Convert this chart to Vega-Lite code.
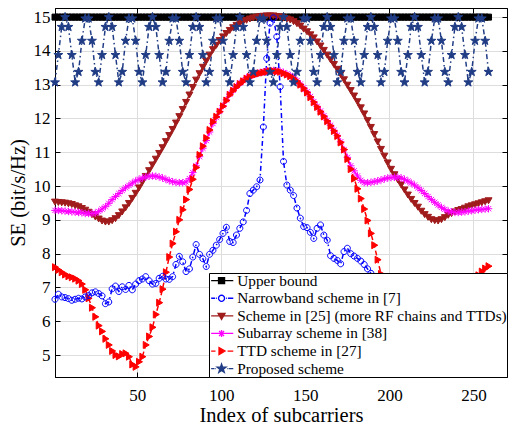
{
"$schema": "https://vega.github.io/schema/vega-lite/v6.json",
"width": 452, "height": 369,
"autosize": {"type": "none"},
"padding": {"left": 55, "top": 8, "right": 4, "bottom": 48},
"background": "white",
"config": {
 "font": "Liberation Serif",
 "view": {"stroke": "black", "strokeWidth": 1},
 "axis": {"labelFont": "Liberation Serif", "labelFontSize": 17, "labelColor": "black", "titleFont": "Liberation Serif", "titleFontSize": 20.5, "titleFontWeight": "normal", "titleColor": "black", "domainColor": "black", "domainWidth": 1, "tickColor": "black", "tickWidth": 1, "tickSize": -5, "gridColor": "#dddddd", "gridWidth": 1}
},
"data": {"values": [
{"s":"UB","x":1,"y":15},{"s":"UB","x":3,"y":15},{"s":"UB","x":5,"y":15},{"s":"UB","x":7,"y":15},{"s":"UB","x":9,"y":15},{"s":"UB","x":11,"y":15},{"s":"UB","x":13,"y":15},{"s":"UB","x":15,"y":15},{"s":"UB","x":17,"y":15},{"s":"UB","x":19,"y":15},{"s":"UB","x":21,"y":15},{"s":"UB","x":23,"y":15},{"s":"UB","x":25,"y":15},{"s":"UB","x":27,"y":15},{"s":"UB","x":29,"y":15},{"s":"UB","x":31,"y":15},{"s":"UB","x":33,"y":15},{"s":"UB","x":35,"y":15},{"s":"UB","x":37,"y":15},{"s":"UB","x":39,"y":15},{"s":"UB","x":41,"y":15},{"s":"UB","x":43,"y":15},{"s":"UB","x":45,"y":15},{"s":"UB","x":47,"y":15},{"s":"UB","x":49,"y":15},{"s":"UB","x":51,"y":15},{"s":"UB","x":53,"y":15},{"s":"UB","x":55,"y":15},{"s":"UB","x":57,"y":15},{"s":"UB","x":59,"y":15},{"s":"UB","x":61,"y":15},{"s":"UB","x":63,"y":15},{"s":"UB","x":65,"y":15},{"s":"UB","x":67,"y":15},{"s":"UB","x":69,"y":15},{"s":"UB","x":71,"y":15},{"s":"UB","x":73,"y":15},{"s":"UB","x":75,"y":15},{"s":"UB","x":77,"y":15},{"s":"UB","x":79,"y":15},{"s":"UB","x":81,"y":15},{"s":"UB","x":83,"y":15},{"s":"UB","x":85,"y":15},{"s":"UB","x":87,"y":15},{"s":"UB","x":89,"y":15},{"s":"UB","x":91,"y":15},{"s":"UB","x":93,"y":15},{"s":"UB","x":95,"y":15},{"s":"UB","x":97,"y":15},{"s":"UB","x":99,"y":15},{"s":"UB","x":101,"y":15},{"s":"UB","x":103,"y":15},{"s":"UB","x":105,"y":15},{"s":"UB","x":107,"y":15},{"s":"UB","x":109,"y":15},{"s":"UB","x":111,"y":15},{"s":"UB","x":113,"y":15},{"s":"UB","x":115,"y":15},{"s":"UB","x":117,"y":15},{"s":"UB","x":119,"y":15},{"s":"UB","x":121,"y":15},{"s":"UB","x":123,"y":15},{"s":"UB","x":125,"y":15},{"s":"UB","x":127,"y":15},{"s":"UB","x":129,"y":15},{"s":"UB","x":131,"y":15},{"s":"UB","x":133,"y":15},{"s":"UB","x":135,"y":15},{"s":"UB","x":137,"y":15},{"s":"UB","x":139,"y":15},{"s":"UB","x":141,"y":15},{"s":"UB","x":143,"y":15},{"s":"UB","x":145,"y":15},{"s":"UB","x":147,"y":15},{"s":"UB","x":149,"y":15},{"s":"UB","x":151,"y":15},{"s":"UB","x":153,"y":15},{"s":"UB","x":155,"y":15},{"s":"UB","x":157,"y":15},{"s":"UB","x":159,"y":15},{"s":"UB","x":161,"y":15},{"s":"UB","x":163,"y":15},{"s":"UB","x":165,"y":15},{"s":"UB","x":167,"y":15},{"s":"UB","x":169,"y":15},{"s":"UB","x":171,"y":15},{"s":"UB","x":173,"y":15},{"s":"UB","x":175,"y":15},{"s":"UB","x":177,"y":15},{"s":"UB","x":179,"y":15},{"s":"UB","x":181,"y":15},{"s":"UB","x":183,"y":15},{"s":"UB","x":185,"y":15},{"s":"UB","x":187,"y":15},{"s":"UB","x":189,"y":15},{"s":"UB","x":191,"y":15},{"s":"UB","x":193,"y":15},{"s":"UB","x":195,"y":15},{"s":"UB","x":197,"y":15},{"s":"UB","x":199,"y":15},{"s":"UB","x":201,"y":15},{"s":"UB","x":203,"y":15},{"s":"UB","x":205,"y":15},{"s":"UB","x":207,"y":15},{"s":"UB","x":209,"y":15},{"s":"UB","x":211,"y":15},{"s":"UB","x":213,"y":15},{"s":"UB","x":215,"y":15},{"s":"UB","x":217,"y":15},{"s":"UB","x":219,"y":15},{"s":"UB","x":221,"y":15},{"s":"UB","x":223,"y":15},{"s":"UB","x":225,"y":15},{"s":"UB","x":227,"y":15},{"s":"UB","x":229,"y":15},{"s":"UB","x":231,"y":15},{"s":"UB","x":233,"y":15},{"s":"UB","x":235,"y":15},{"s":"UB","x":237,"y":15},{"s":"UB","x":239,"y":15},{"s":"UB","x":241,"y":15},{"s":"UB","x":243,"y":15},{"s":"UB","x":245,"y":15},{"s":"UB","x":247,"y":15},{"s":"UB","x":249,"y":15},{"s":"UB","x":251,"y":15},{"s":"UB","x":253,"y":15},{"s":"UB","x":255,"y":15},{"s":"UB","x":257,"y":15},{"s":"UB","x":259,"y":15},
{"s":"S25","x":1,"y":9.54},{"s":"S25","x":3,"y":9.53},{"s":"S25","x":5,"y":9.52},{"s":"S25","x":7,"y":9.51},{"s":"S25","x":9,"y":9.49},{"s":"S25","x":11,"y":9.47},{"s":"S25","x":13,"y":9.43},{"s":"S25","x":15,"y":9.40},{"s":"S25","x":17,"y":9.35},{"s":"S25","x":19,"y":9.30},{"s":"S25","x":21,"y":9.24},{"s":"S25","x":23,"y":9.17},{"s":"S25","x":25,"y":9.10},{"s":"S25","x":27,"y":9.04},{"s":"S25","x":29,"y":8.98},{"s":"S25","x":31,"y":8.95},{"s":"S25","x":33,"y":8.95},{"s":"S25","x":35,"y":8.99},{"s":"S25","x":37,"y":9.05},{"s":"S25","x":39,"y":9.14},{"s":"S25","x":41,"y":9.25},{"s":"S25","x":43,"y":9.37},{"s":"S25","x":45,"y":9.50},{"s":"S25","x":47,"y":9.65},{"s":"S25","x":49,"y":9.80},{"s":"S25","x":51,"y":9.96},{"s":"S25","x":53,"y":10.13},{"s":"S25","x":55,"y":10.30},{"s":"S25","x":57,"y":10.47},{"s":"S25","x":59,"y":10.64},{"s":"S25","x":61,"y":10.81},{"s":"S25","x":63,"y":10.98},{"s":"S25","x":65,"y":11.15},{"s":"S25","x":67,"y":11.33},{"s":"S25","x":69,"y":11.51},{"s":"S25","x":71,"y":11.69},{"s":"S25","x":73,"y":11.88},{"s":"S25","x":75,"y":12.07},{"s":"S25","x":77,"y":12.28},{"s":"S25","x":79,"y":12.49},{"s":"S25","x":81,"y":12.71},{"s":"S25","x":83,"y":12.93},{"s":"S25","x":85,"y":13.15},{"s":"S25","x":87,"y":13.34},{"s":"S25","x":89,"y":13.53},{"s":"S25","x":91,"y":13.71},{"s":"S25","x":93,"y":13.89},{"s":"S25","x":95,"y":14.05},{"s":"S25","x":97,"y":14.18},{"s":"S25","x":99,"y":14.32},{"s":"S25","x":101,"y":14.43},{"s":"S25","x":103,"y":14.53},{"s":"S25","x":105,"y":14.62},{"s":"S25","x":107,"y":14.70},{"s":"S25","x":109,"y":14.77},{"s":"S25","x":111,"y":14.83},{"s":"S25","x":113,"y":14.88},{"s":"S25","x":115,"y":14.92},{"s":"S25","x":117,"y":14.96},{"s":"S25","x":119,"y":14.99},{"s":"S25","x":121,"y":15.01},{"s":"S25","x":123,"y":15.03},{"s":"S25","x":125,"y":15.04},{"s":"S25","x":127,"y":15.05},{"s":"S25","x":129,"y":15.05},{"s":"S25","x":131,"y":15.05},{"s":"S25","x":133,"y":15.03},{"s":"S25","x":135,"y":15.02},{"s":"S25","x":137,"y":14.99},{"s":"S25","x":139,"y":14.96},{"s":"S25","x":141,"y":14.93},{"s":"S25","x":143,"y":14.88},{"s":"S25","x":145,"y":14.82},{"s":"S25","x":147,"y":14.75},{"s":"S25","x":149,"y":14.66},{"s":"S25","x":151,"y":14.58},{"s":"S25","x":153,"y":14.49},{"s":"S25","x":155,"y":14.40},{"s":"S25","x":157,"y":14.28},{"s":"S25","x":159,"y":14.16},{"s":"S25","x":161,"y":14.03},{"s":"S25","x":163,"y":13.89},{"s":"S25","x":165,"y":13.75},{"s":"S25","x":167,"y":13.61},{"s":"S25","x":169,"y":13.47},{"s":"S25","x":171,"y":13.32},{"s":"S25","x":173,"y":13.16},{"s":"S25","x":175,"y":13.00},{"s":"S25","x":177,"y":12.84},{"s":"S25","x":179,"y":12.68},{"s":"S25","x":181,"y":12.51},{"s":"S25","x":183,"y":12.33},{"s":"S25","x":185,"y":12.15},{"s":"S25","x":187,"y":11.95},{"s":"S25","x":189,"y":11.75},{"s":"S25","x":191,"y":11.54},{"s":"S25","x":193,"y":11.32},{"s":"S25","x":195,"y":11.10},{"s":"S25","x":197,"y":10.90},{"s":"S25","x":199,"y":10.70},{"s":"S25","x":201,"y":10.51},{"s":"S25","x":203,"y":10.35},{"s":"S25","x":205,"y":10.20},{"s":"S25","x":207,"y":10.05},{"s":"S25","x":209,"y":9.90},{"s":"S25","x":211,"y":9.75},{"s":"S25","x":213,"y":9.62},{"s":"S25","x":215,"y":9.50},{"s":"S25","x":217,"y":9.39},{"s":"S25","x":219,"y":9.27},{"s":"S25","x":221,"y":9.17},{"s":"S25","x":223,"y":9.09},{"s":"S25","x":225,"y":9.02},{"s":"S25","x":227,"y":8.99},{"s":"S25","x":229,"y":8.98},{"s":"S25","x":231,"y":9.02},{"s":"S25","x":233,"y":9.08},{"s":"S25","x":235,"y":9.15},{"s":"S25","x":237,"y":9.20},{"s":"S25","x":239,"y":9.25},{"s":"S25","x":241,"y":9.29},{"s":"S25","x":243,"y":9.32},{"s":"S25","x":245,"y":9.36},{"s":"S25","x":247,"y":9.40},{"s":"S25","x":249,"y":9.43},{"s":"S25","x":251,"y":9.46},{"s":"S25","x":253,"y":9.49},{"s":"S25","x":255,"y":9.52},{"s":"S25","x":257,"y":9.55},{"s":"S25","x":259,"y":9.58},
{"s":"SA","x":1,"y":9.28},{"s":"SA","x":3,"y":9.28},{"s":"SA","x":5,"y":9.27},{"s":"SA","x":7,"y":9.26},{"s":"SA","x":9,"y":9.25},{"s":"SA","x":11,"y":9.24},{"s":"SA","x":13,"y":9.23},{"s":"SA","x":15,"y":9.22},{"s":"SA","x":17,"y":9.21},{"s":"SA","x":19,"y":9.19},{"s":"SA","x":21,"y":9.19},{"s":"SA","x":23,"y":9.19},{"s":"SA","x":25,"y":9.20},{"s":"SA","x":27,"y":9.25},{"s":"SA","x":29,"y":9.32},{"s":"SA","x":31,"y":9.39},{"s":"SA","x":33,"y":9.49},{"s":"SA","x":35,"y":9.60},{"s":"SA","x":37,"y":9.69},{"s":"SA","x":39,"y":9.78},{"s":"SA","x":41,"y":9.87},{"s":"SA","x":43,"y":9.95},{"s":"SA","x":45,"y":10.02},{"s":"SA","x":47,"y":10.09},{"s":"SA","x":49,"y":10.15},{"s":"SA","x":51,"y":10.20},{"s":"SA","x":53,"y":10.24},{"s":"SA","x":55,"y":10.27},{"s":"SA","x":57,"y":10.29},{"s":"SA","x":59,"y":10.30},{"s":"SA","x":61,"y":10.29},{"s":"SA","x":63,"y":10.27},{"s":"SA","x":65,"y":10.24},{"s":"SA","x":67,"y":10.20},{"s":"SA","x":69,"y":10.16},{"s":"SA","x":71,"y":10.13},{"s":"SA","x":73,"y":10.11},{"s":"SA","x":75,"y":10.10},{"s":"SA","x":77,"y":10.10},{"s":"SA","x":79,"y":10.12},{"s":"SA","x":81,"y":10.22},{"s":"SA","x":83,"y":10.40},{"s":"SA","x":85,"y":10.60},{"s":"SA","x":87,"y":10.87},{"s":"SA","x":89,"y":11.12},{"s":"SA","x":91,"y":11.35},{"s":"SA","x":93,"y":11.60},{"s":"SA","x":95,"y":11.85},{"s":"SA","x":97,"y":12.03},{"s":"SA","x":99,"y":12.21},{"s":"SA","x":101,"y":12.38},{"s":"SA","x":103,"y":12.55},{"s":"SA","x":105,"y":12.72},{"s":"SA","x":107,"y":12.84},{"s":"SA","x":109,"y":12.95},{"s":"SA","x":111,"y":13.04},{"s":"SA","x":113,"y":13.12},{"s":"SA","x":115,"y":13.20},{"s":"SA","x":117,"y":13.25},{"s":"SA","x":119,"y":13.30},{"s":"SA","x":121,"y":13.33},{"s":"SA","x":123,"y":13.36},{"s":"SA","x":125,"y":13.38},{"s":"SA","x":127,"y":13.40},{"s":"SA","x":129,"y":13.42},{"s":"SA","x":131,"y":13.42},{"s":"SA","x":133,"y":13.41},{"s":"SA","x":135,"y":13.40},{"s":"SA","x":137,"y":13.36},{"s":"SA","x":139,"y":13.32},{"s":"SA","x":141,"y":13.27},{"s":"SA","x":143,"y":13.20},{"s":"SA","x":145,"y":13.12},{"s":"SA","x":147,"y":13.02},{"s":"SA","x":149,"y":12.91},{"s":"SA","x":151,"y":12.79},{"s":"SA","x":153,"y":12.65},{"s":"SA","x":155,"y":12.50},{"s":"SA","x":157,"y":12.36},{"s":"SA","x":159,"y":12.22},{"s":"SA","x":161,"y":12.08},{"s":"SA","x":163,"y":11.94},{"s":"SA","x":165,"y":11.80},{"s":"SA","x":167,"y":11.65},{"s":"SA","x":169,"y":11.50},{"s":"SA","x":171,"y":11.31},{"s":"SA","x":173,"y":11.08},{"s":"SA","x":175,"y":10.85},{"s":"SA","x":177,"y":10.60},{"s":"SA","x":179,"y":10.45},{"s":"SA","x":181,"y":10.30},{"s":"SA","x":183,"y":10.17},{"s":"SA","x":185,"y":10.10},{"s":"SA","x":187,"y":10.10},{"s":"SA","x":189,"y":10.11},{"s":"SA","x":191,"y":10.13},{"s":"SA","x":193,"y":10.15},{"s":"SA","x":195,"y":10.18},{"s":"SA","x":197,"y":10.21},{"s":"SA","x":199,"y":10.24},{"s":"SA","x":201,"y":10.25},{"s":"SA","x":203,"y":10.26},{"s":"SA","x":205,"y":10.26},{"s":"SA","x":207,"y":10.24},{"s":"SA","x":209,"y":10.20},{"s":"SA","x":211,"y":10.15},{"s":"SA","x":213,"y":10.09},{"s":"SA","x":215,"y":10.03},{"s":"SA","x":217,"y":9.95},{"s":"SA","x":219,"y":9.87},{"s":"SA","x":221,"y":9.78},{"s":"SA","x":223,"y":9.69},{"s":"SA","x":225,"y":9.60},{"s":"SA","x":227,"y":9.52},{"s":"SA","x":229,"y":9.44},{"s":"SA","x":231,"y":9.37},{"s":"SA","x":233,"y":9.31},{"s":"SA","x":235,"y":9.26},{"s":"SA","x":237,"y":9.24},{"s":"SA","x":239,"y":9.22},{"s":"SA","x":241,"y":9.22},{"s":"SA","x":243,"y":9.23},{"s":"SA","x":245,"y":9.24},{"s":"SA","x":247,"y":9.26},{"s":"SA","x":249,"y":9.27},{"s":"SA","x":251,"y":9.29},{"s":"SA","x":253,"y":9.30},{"s":"SA","x":255,"y":9.31},{"s":"SA","x":257,"y":9.32},{"s":"SA","x":259,"y":9.33},
{"s":"TTD","x":1,"y":7.60},{"s":"TTD","x":3,"y":7.52},{"s":"TTD","x":5,"y":7.45},{"s":"TTD","x":7,"y":7.38},{"s":"TTD","x":9,"y":7.33},{"s":"TTD","x":11,"y":7.30},{"s":"TTD","x":13,"y":7.26},{"s":"TTD","x":15,"y":7.20},{"s":"TTD","x":17,"y":7.10},{"s":"TTD","x":19,"y":6.93},{"s":"TTD","x":21,"y":6.68},{"s":"TTD","x":23,"y":6.40},{"s":"TTD","x":25,"y":6.13},{"s":"TTD","x":27,"y":5.87},{"s":"TTD","x":29,"y":5.70},{"s":"TTD","x":31,"y":5.48},{"s":"TTD","x":33,"y":5.30},{"s":"TTD","x":35,"y":5.12},{"s":"TTD","x":37,"y":5.00},{"s":"TTD","x":39,"y":4.96},{"s":"TTD","x":41,"y":5.03},{"s":"TTD","x":43,"y":5.05},{"s":"TTD","x":45,"y":4.95},{"s":"TTD","x":47,"y":4.72},{"s":"TTD","x":49,"y":4.65},{"s":"TTD","x":51,"y":4.80},{"s":"TTD","x":53,"y":4.95},{"s":"TTD","x":55,"y":5.30},{"s":"TTD","x":57,"y":5.55},{"s":"TTD","x":59,"y":5.82},{"s":"TTD","x":61,"y":6.20},{"s":"TTD","x":63,"y":6.55},{"s":"TTD","x":65,"y":6.95},{"s":"TTD","x":67,"y":7.45},{"s":"TTD","x":69,"y":7.90},{"s":"TTD","x":71,"y":8.30},{"s":"TTD","x":73,"y":8.65},{"s":"TTD","x":75,"y":9.00},{"s":"TTD","x":77,"y":9.30},{"s":"TTD","x":79,"y":9.60},{"s":"TTD","x":81,"y":9.90},{"s":"TTD","x":83,"y":10.20},{"s":"TTD","x":85,"y":10.55},{"s":"TTD","x":87,"y":10.92},{"s":"TTD","x":89,"y":11.18},{"s":"TTD","x":91,"y":11.42},{"s":"TTD","x":93,"y":11.66},{"s":"TTD","x":95,"y":11.90},{"s":"TTD","x":97,"y":12.05},{"s":"TTD","x":99,"y":12.20},{"s":"TTD","x":101,"y":12.36},{"s":"TTD","x":103,"y":12.53},{"s":"TTD","x":105,"y":12.70},{"s":"TTD","x":107,"y":12.82},{"s":"TTD","x":109,"y":12.93},{"s":"TTD","x":111,"y":13.02},{"s":"TTD","x":113,"y":13.10},{"s":"TTD","x":115,"y":13.18},{"s":"TTD","x":117,"y":13.23},{"s":"TTD","x":119,"y":13.28},{"s":"TTD","x":121,"y":13.31},{"s":"TTD","x":123,"y":13.34},{"s":"TTD","x":125,"y":13.36},{"s":"TTD","x":127,"y":13.38},{"s":"TTD","x":129,"y":13.40},{"s":"TTD","x":131,"y":13.40},{"s":"TTD","x":133,"y":13.39},{"s":"TTD","x":135,"y":13.38},{"s":"TTD","x":137,"y":13.34},{"s":"TTD","x":139,"y":13.30},{"s":"TTD","x":141,"y":13.25},{"s":"TTD","x":143,"y":13.18},{"s":"TTD","x":145,"y":13.10},{"s":"TTD","x":147,"y":13.00},{"s":"TTD","x":149,"y":12.89},{"s":"TTD","x":151,"y":12.77},{"s":"TTD","x":153,"y":12.63},{"s":"TTD","x":155,"y":12.48},{"s":"TTD","x":157,"y":12.34},{"s":"TTD","x":159,"y":12.20},{"s":"TTD","x":161,"y":12.06},{"s":"TTD","x":163,"y":11.92},{"s":"TTD","x":165,"y":11.78},{"s":"TTD","x":167,"y":11.63},{"s":"TTD","x":169,"y":11.48},{"s":"TTD","x":171,"y":11.29},{"s":"TTD","x":173,"y":11.08},{"s":"TTD","x":175,"y":10.80},{"s":"TTD","x":177,"y":10.50},{"s":"TTD","x":179,"y":10.22},{"s":"TTD","x":181,"y":9.92},{"s":"TTD","x":183,"y":9.63},{"s":"TTD","x":185,"y":9.32},{"s":"TTD","x":187,"y":8.98},{"s":"TTD","x":189,"y":8.60},{"s":"TTD","x":191,"y":8.25},{"s":"TTD","x":193,"y":7.82},{"s":"TTD","x":195,"y":7.40},{"s":"TTD","x":197,"y":7.00},{"s":"TTD","x":199,"y":6.62},{"s":"TTD","x":201,"y":6.25},{"s":"TTD","x":203,"y":5.92},{"s":"TTD","x":205,"y":5.62},{"s":"TTD","x":207,"y":5.35},{"s":"TTD","x":209,"y":5.00},{"s":"TTD","x":211,"y":4.82},{"s":"TTD","x":213,"y":4.67},{"s":"TTD","x":215,"y":4.78},{"s":"TTD","x":217,"y":4.97},{"s":"TTD","x":219,"y":5.04},{"s":"TTD","x":221,"y":5.02},{"s":"TTD","x":223,"y":4.97},{"s":"TTD","x":225,"y":5.05},{"s":"TTD","x":227,"y":5.20},{"s":"TTD","x":229,"y":5.35},{"s":"TTD","x":231,"y":5.52},{"s":"TTD","x":233,"y":5.74},{"s":"TTD","x":235,"y":5.95},{"s":"TTD","x":237,"y":6.20},{"s":"TTD","x":239,"y":6.48},{"s":"TTD","x":241,"y":6.75},{"s":"TTD","x":243,"y":6.98},{"s":"TTD","x":245,"y":7.13},{"s":"TTD","x":247,"y":7.22},{"s":"TTD","x":249,"y":7.27},{"s":"TTD","x":251,"y":7.31},{"s":"TTD","x":253,"y":7.36},{"s":"TTD","x":255,"y":7.47},{"s":"TTD","x":257,"y":7.56},{"s":"TTD","x":259,"y":7.63},
{"s":"NB","x":1,"y":6.65},{"s":"NB","x":3,"y":6.80},{"s":"NB","x":5,"y":6.72},{"s":"NB","x":7,"y":6.70},{"s":"NB","x":9,"y":6.67},{"s":"NB","x":11,"y":6.62},{"s":"NB","x":13,"y":6.65},{"s":"NB","x":15,"y":6.68},{"s":"NB","x":17,"y":6.66},{"s":"NB","x":19,"y":6.72},{"s":"NB","x":21,"y":6.76},{"s":"NB","x":23,"y":6.84},{"s":"NB","x":25,"y":6.87},{"s":"NB","x":27,"y":6.82},{"s":"NB","x":29,"y":6.75},{"s":"NB","x":31,"y":6.52},{"s":"NB","x":33,"y":6.57},{"s":"NB","x":35,"y":6.96},{"s":"NB","x":37,"y":7.04},{"s":"NB","x":39,"y":6.88},{"s":"NB","x":41,"y":7.02},{"s":"NB","x":43,"y":6.94},{"s":"NB","x":45,"y":7.06},{"s":"NB","x":47,"y":6.93},{"s":"NB","x":49,"y":7.10},{"s":"NB","x":51,"y":7.20},{"s":"NB","x":53,"y":7.25},{"s":"NB","x":55,"y":7.32},{"s":"NB","x":57,"y":7.20},{"s":"NB","x":59,"y":7.10},{"s":"NB","x":61,"y":7.12},{"s":"NB","x":63,"y":7.27},{"s":"NB","x":65,"y":7.33},{"s":"NB","x":67,"y":7.25},{"s":"NB","x":69,"y":7.24},{"s":"NB","x":71,"y":7.32},{"s":"NB","x":73,"y":7.68},{"s":"NB","x":75,"y":7.92},{"s":"NB","x":77,"y":7.76},{"s":"NB","x":79,"y":7.47},{"s":"NB","x":81,"y":7.55},{"s":"NB","x":83,"y":7.90},{"s":"NB","x":85,"y":8.27},{"s":"NB","x":87,"y":7.98},{"s":"NB","x":89,"y":7.85},{"s":"NB","x":91,"y":7.62},{"s":"NB","x":93,"y":7.98},{"s":"NB","x":95,"y":8.10},{"s":"NB","x":97,"y":8.25},{"s":"NB","x":99,"y":8.42},{"s":"NB","x":101,"y":8.60},{"s":"NB","x":103,"y":8.78},{"s":"NB","x":105,"y":8.36},{"s":"NB","x":107,"y":8.33},{"s":"NB","x":109,"y":8.55},{"s":"NB","x":111,"y":8.75},{"s":"NB","x":113,"y":8.94},{"s":"NB","x":115,"y":9.28},{"s":"NB","x":117,"y":9.78},{"s":"NB","x":119,"y":9.88},{"s":"NB","x":121,"y":9.98},{"s":"NB","x":123,"y":10.18},{"s":"NB","x":125,"y":11.75},{"s":"NB","x":127,"y":13.78},{"s":"NB","x":129,"y":14.82},{"s":"NB","x":131,"y":14.98},{"s":"NB","x":133,"y":14.42},{"s":"NB","x":135,"y":12.94},{"s":"NB","x":137,"y":10.73},{"s":"NB","x":139,"y":10.03},{"s":"NB","x":141,"y":9.88},{"s":"NB","x":143,"y":9.72},{"s":"NB","x":145,"y":9.35},{"s":"NB","x":147,"y":9.05},{"s":"NB","x":149,"y":8.80},{"s":"NB","x":151,"y":8.77},{"s":"NB","x":153,"y":8.63},{"s":"NB","x":155,"y":8.45},{"s":"NB","x":157,"y":8.75},{"s":"NB","x":159,"y":8.85},{"s":"NB","x":161,"y":8.55},{"s":"NB","x":163,"y":8.40},{"s":"NB","x":165,"y":7.94},{"s":"NB","x":167,"y":7.86},{"s":"NB","x":169,"y":7.80},{"s":"NB","x":171,"y":7.70},{"s":"NB","x":173,"y":8.06},{"s":"NB","x":175,"y":8.16},{"s":"NB","x":177,"y":8.00},{"s":"NB","x":179,"y":7.93},{"s":"NB","x":181,"y":7.86},{"s":"NB","x":183,"y":7.78},{"s":"NB","x":185,"y":7.68},{"s":"NB","x":187,"y":7.55},{"s":"NB","x":189,"y":7.42},{"s":"NB","x":191,"y":7.30},{"s":"NB","x":193,"y":7.30},{"s":"NB","x":195,"y":7.22},{"s":"NB","x":197,"y":7.25},{"s":"NB","x":199,"y":7.12},{"s":"NB","x":201,"y":7.10},{"s":"NB","x":203,"y":7.30},{"s":"NB","x":205,"y":7.25},{"s":"NB","x":207,"y":7.10},{"s":"NB","x":209,"y":7.20},{"s":"NB","x":211,"y":7.00},{"s":"NB","x":213,"y":7.05},{"s":"NB","x":215,"y":6.92},{"s":"NB","x":217,"y":7.00},{"s":"NB","x":219,"y":6.85},{"s":"NB","x":221,"y":7.00},{"s":"NB","x":223,"y":6.95},{"s":"NB","x":225,"y":6.60},{"s":"NB","x":227,"y":6.55},{"s":"NB","x":229,"y":6.75},{"s":"NB","x":231,"y":6.82},{"s":"NB","x":233,"y":6.85},{"s":"NB","x":235,"y":6.78},{"s":"NB","x":237,"y":6.72},{"s":"NB","x":239,"y":6.66},{"s":"NB","x":241,"y":6.68},{"s":"NB","x":243,"y":6.65},{"s":"NB","x":245,"y":6.62},{"s":"NB","x":247,"y":6.66},{"s":"NB","x":249,"y":6.70},{"s":"NB","x":251,"y":6.72},{"s":"NB","x":253,"y":6.78},{"s":"NB","x":255,"y":6.70},{"s":"NB","x":257,"y":6.75},{"s":"NB","x":259,"y":6.65},
{"s":"PR","x":1,"y":13.07},{"s":"PR","x":3,"y":13.88},{"s":"PR","x":5,"y":14.71},{"s":"PR","x":7,"y":15.0},{"s":"PR","x":9,"y":14.71},{"s":"PR","x":11,"y":13.88},{"s":"PR","x":13,"y":13.07},{"s":"PR","x":15,"y":13.38},{"s":"PR","x":17,"y":14.30},{"s":"PR","x":19,"y":14.96},{"s":"PR","x":21,"y":14.96},{"s":"PR","x":23,"y":14.30},{"s":"PR","x":25,"y":13.38},
{"s":"PR","x":27,"y":13.07},{"s":"PR","x":29,"y":13.88},{"s":"PR","x":31,"y":14.71},{"s":"PR","x":33,"y":15.0},{"s":"PR","x":35,"y":14.71},{"s":"PR","x":37,"y":13.88},{"s":"PR","x":39,"y":13.07},{"s":"PR","x":41,"y":13.38},{"s":"PR","x":43,"y":14.30},{"s":"PR","x":45,"y":14.96},{"s":"PR","x":47,"y":14.96},{"s":"PR","x":49,"y":14.30},{"s":"PR","x":51,"y":13.38},
{"s":"PR","x":53,"y":13.07},{"s":"PR","x":55,"y":13.88},{"s":"PR","x":57,"y":14.71},{"s":"PR","x":59,"y":15.0},{"s":"PR","x":61,"y":14.71},{"s":"PR","x":63,"y":13.88},{"s":"PR","x":65,"y":13.07},{"s":"PR","x":67,"y":13.38},{"s":"PR","x":69,"y":14.30},{"s":"PR","x":71,"y":14.96},{"s":"PR","x":73,"y":14.96},{"s":"PR","x":75,"y":14.30},{"s":"PR","x":77,"y":13.38},
{"s":"PR","x":79,"y":13.07},{"s":"PR","x":81,"y":13.88},{"s":"PR","x":83,"y":14.71},{"s":"PR","x":85,"y":15.0},{"s":"PR","x":87,"y":14.71},{"s":"PR","x":89,"y":13.88},{"s":"PR","x":91,"y":13.07},{"s":"PR","x":93,"y":13.38},{"s":"PR","x":95,"y":14.30},{"s":"PR","x":97,"y":14.96},{"s":"PR","x":99,"y":14.96},{"s":"PR","x":101,"y":14.30},{"s":"PR","x":103,"y":13.38},
{"s":"PR","x":105,"y":13.07},{"s":"PR","x":107,"y":13.88},{"s":"PR","x":109,"y":14.71},{"s":"PR","x":111,"y":15.0},{"s":"PR","x":113,"y":14.71},{"s":"PR","x":115,"y":13.88},{"s":"PR","x":117,"y":13.07},{"s":"PR","x":119,"y":13.38},{"s":"PR","x":121,"y":14.30},{"s":"PR","x":123,"y":14.96},{"s":"PR","x":125,"y":14.96},{"s":"PR","x":127,"y":14.30},{"s":"PR","x":129,"y":13.38},
{"s":"PR","x":131,"y":13.07},{"s":"PR","x":133,"y":13.88},{"s":"PR","x":135,"y":14.71},{"s":"PR","x":137,"y":15.0},{"s":"PR","x":139,"y":14.71},{"s":"PR","x":141,"y":13.88},{"s":"PR","x":143,"y":13.07},{"s":"PR","x":145,"y":13.38},{"s":"PR","x":147,"y":14.30},{"s":"PR","x":149,"y":14.96},{"s":"PR","x":151,"y":14.96},{"s":"PR","x":153,"y":14.30},{"s":"PR","x":155,"y":13.38},
{"s":"PR","x":157,"y":13.07},{"s":"PR","x":159,"y":13.88},{"s":"PR","x":161,"y":14.71},{"s":"PR","x":163,"y":15.0},{"s":"PR","x":165,"y":14.71},{"s":"PR","x":167,"y":13.88},{"s":"PR","x":169,"y":13.07},{"s":"PR","x":171,"y":13.38},{"s":"PR","x":173,"y":14.30},{"s":"PR","x":175,"y":14.96},{"s":"PR","x":177,"y":14.96},{"s":"PR","x":179,"y":14.30},{"s":"PR","x":181,"y":13.38},
{"s":"PR","x":183,"y":13.07},{"s":"PR","x":185,"y":13.88},{"s":"PR","x":187,"y":14.71},{"s":"PR","x":189,"y":15.0},{"s":"PR","x":191,"y":14.71},{"s":"PR","x":193,"y":13.88},{"s":"PR","x":195,"y":13.07},{"s":"PR","x":197,"y":13.38},{"s":"PR","x":199,"y":14.30},{"s":"PR","x":201,"y":14.96},{"s":"PR","x":203,"y":14.96},{"s":"PR","x":205,"y":14.30},{"s":"PR","x":207,"y":13.38},
{"s":"PR","x":209,"y":13.07},{"s":"PR","x":211,"y":13.88},{"s":"PR","x":213,"y":14.71},{"s":"PR","x":215,"y":15.0},{"s":"PR","x":217,"y":14.71},{"s":"PR","x":219,"y":13.88},{"s":"PR","x":221,"y":13.07},{"s":"PR","x":223,"y":13.38},{"s":"PR","x":225,"y":14.30},{"s":"PR","x":227,"y":14.96},{"s":"PR","x":229,"y":14.96},{"s":"PR","x":231,"y":14.30},{"s":"PR","x":233,"y":13.38},
{"s":"PR","x":235,"y":13.07},{"s":"PR","x":237,"y":13.88},{"s":"PR","x":239,"y":14.71},{"s":"PR","x":241,"y":15.0},{"s":"PR","x":243,"y":14.71},{"s":"PR","x":245,"y":13.88},{"s":"PR","x":247,"y":13.07},{"s":"PR","x":249,"y":13.38},{"s":"PR","x":251,"y":14.30},{"s":"PR","x":253,"y":14.96},{"s":"PR","x":255,"y":14.96},{"s":"PR","x":257,"y":14.30},{"s":"PR","x":259,"y":13.38}
]},
"resolve": {"scale": {"shape": "independent", "fill": "independent", "stroke": "independent"}, "axis": {"x": "independent", "y": "independent"}},
"layer": [
 {
  "mark": {"type": "line", "strokeWidth": 1.5},
  "encoding": {
   "x": {"field": "x", "type": "quantitative", "scale": {"domain": [1, 270], "nice": false, "zero": false},
         "axis": {"orient": "bottom", "values": [50, 100, 150, 200, 250], "grid": true, "labelPadding": 15, "title": "Index of subcarriers", "titlePadding": 2}},
   "y": {"field": "y", "type": "quantitative", "scale": {"domain": [4.35, 15.27], "nice": false, "zero": false},
         "axis": {"orient": "left", "values": [5, 6, 7, 8, 9, 10, 11, 12, 13, 14, 15], "grid": true, "labelPadding": 10, "title": "SE (bit/s/Hz)", "titlePadding": 5}},
   "stroke": {"field": "s", "type": "nominal", "legend": null,
     "scale": {"domain": ["UB", "NB", "S25", "SA", "TTD", "PR"], "range": ["#000000", "#0000ff", "#a01c1c", "#ff00ff", "#ff0000", "#203c85"]}},
   "strokeDash": {"field": "s", "type": "nominal", "legend": null,
     "scale": {"domain": ["UB", "NB", "S25", "SA", "TTD", "PR"], "range": [[1, 0], [5, 3, 1.5, 3], [1, 0], [1, 0], [5, 3], [5, 3, 1.5, 3]]}}
  }
 },
 {
  "mark": {"type": "point", "filled": true, "strokeWidth": 1, "opacity": 1, "size": 100},
  "encoding": {
   "x": {"field": "x", "type": "quantitative", "scale": {"domain": [1, 270], "nice": false, "zero": false},
         "axis": {"orient": "top", "values": [50, 100, 150, 200, 250], "grid": false, "labels": false, "title": null}},
   "y": {"field": "y", "type": "quantitative", "scale": {"domain": [4.35, 15.27], "nice": false, "zero": false},
         "axis": {"orient": "right", "values": [5, 6, 7, 8, 9, 10, 11, 12, 13, 14, 15], "grid": false, "labels": false, "title": null}},
   "shape": {"field": "s", "type": "nominal", "legend": null,
     "scale": {"domain": ["UB", "NB", "S25", "SA", "TTD", "PR"], "range": [
       "M-0.6,-0.6H0.6V0.6H-0.6Z",
       "M0.6,0L0.554,0.23L0.424,0.424L0.23,0.554L0,0.6L-0.23,0.554L-0.424,0.424L-0.554,0.23L-0.6,0L-0.554,-0.23L-0.424,-0.424L-0.23,-0.554L0,-0.6L0.23,-0.554L0.424,-0.424L0.554,-0.23Z",
       "M-0.7,-0.5L0.7,-0.5L0,0.7Z",
       "M-0.75,0H0.75M0,-0.75V0.75M-0.53,-0.53L0.53,0.53M-0.53,0.53L0.53,-0.53",
       "M-0.5,-0.7L0.7,0L-0.5,0.7Z",
       "M0,-0.94L0.221,-0.305L0.894,-0.29L0.357,0.117L0.553,0.76L0,0.376L-0.553,0.76L-0.357,0.117L-0.894,-0.29L-0.221,-0.305Z"]}},
   "fill": {"field": "s", "type": "nominal", "legend": null,
     "scale": {"domain": ["UB", "NB", "S25", "SA", "TTD", "PR"], "range": ["#000000", "transparent", "#a01c1c", "#ff00ff", "#ff0000", "#203c85"]}},
   "stroke": {"field": "s", "type": "nominal", "legend": null,
     "scale": {"domain": ["UB", "NB", "S25", "SA", "TTD", "PR"], "range": ["#000000", "#0000ff", "#a01c1c", "#ff00ff", "#ff0000", "#203c85"]}}
  }
 },
 {
  "transform": [{"filter": "false"}],
  "mark": {"type": "point", "filled": true, "opacity": 1},
  "encoding": {
   "shape": {"field": "s", "type": "nominal",
     "scale": {"domain": ["UB", "NB", "S25", "SA", "TTD", "PR"], "range": [
       "M-1.55,0H1.75M-0.45,-0.45H0.45V0.45H-0.45Z",
       "M-1.55,0H-0.95M-0.8,0H-0.68M0.68,0H0.8M0.95,0H1.75M0.45,0L0.416,0.172L0.318,0.318L0.172,0.416L0,0.45L-0.172,0.416L-0.318,0.318L-0.416,0.172L-0.45,0L-0.416,-0.172L-0.318,-0.318L-0.172,-0.416L0,-0.45L0.172,-0.416L0.318,-0.318L0.416,-0.172Z",
       "M-1.55,0H1.75M-0.52,-0.38L0.52,-0.38L0,0.52Z",
       "M-1.55,0H1.75M-0.52,0H0.52M0,-0.52V0.52M-0.37,-0.37L0.37,0.37M-0.37,0.37L0.37,-0.37",
       "M-1.55,0H-0.9M0.9,0H1.75M-0.38,-0.52L0.52,0L-0.38,0.52Z",
       "M-1.55,0H-1.05M-0.92,0H-0.82M0.82,0H0.92M1.05,0H1.75M0,-0.7L0.165,-0.227L0.666,-0.216L0.266,0.087L0.412,0.566L0,0.28L-0.412,0.566L-0.266,0.087L-0.666,-0.216L-0.165,-0.227Z"]},
     "legend": {"title": null, "orient": "bottom-right", "offset": 0, "padding": 0, "fillColor": "white", "strokeColor": "black", "symbolSize": 180, "symbolStrokeWidth": 1.3, "symbolOffset": 4.9, "symbolOpacity": 1, "labelFont": "Liberation Serif", "labelFontSize": 15.3, "labelColor": "black", "labelOffset": 8, "rowPadding": 1.6, "labelLimit": 400,
       "labelExpr": "{'UB':'Upper bound','NB':'Narrowband scheme in [7]','S25':'Scheme in [25] (more RF chains and TTDs)','SA':'Subarray scheme in [38]','TTD':'TTD scheme in [27]','PR':'Proposed scheme'}[datum.label]"}},
   "fill": {"field": "s", "type": "nominal",
     "scale": {"domain": ["UB", "NB", "S25", "SA", "TTD", "PR"], "range": ["#000000", "transparent", "#a01c1c", "#ff00ff", "#ff0000", "#203c85"]},
     "legend": {"title": null, "orient": "bottom-right", "offset": 0, "padding": 0, "fillColor": "white", "strokeColor": "black", "symbolSize": 180, "symbolStrokeWidth": 1.3, "symbolOffset": 4.9, "symbolOpacity": 1, "labelFont": "Liberation Serif", "labelFontSize": 15.3, "labelColor": "black", "labelOffset": 8, "rowPadding": 1.6, "labelLimit": 400,
       "labelExpr": "{'UB':'Upper bound','NB':'Narrowband scheme in [7]','S25':'Scheme in [25] (more RF chains and TTDs)','SA':'Subarray scheme in [38]','TTD':'TTD scheme in [27]','PR':'Proposed scheme'}[datum.label]"}},
   "stroke": {"field": "s", "type": "nominal",
     "scale": {"domain": ["UB", "NB", "S25", "SA", "TTD", "PR"], "range": ["#000000", "#0000ff", "#a01c1c", "#ff00ff", "#ff0000", "#203c85"]},
     "legend": {"title": null, "orient": "bottom-right", "offset": 0, "padding": 0, "fillColor": "white", "strokeColor": "black", "symbolSize": 180, "symbolStrokeWidth": 1.3, "symbolOffset": 4.9, "symbolOpacity": 1, "labelFont": "Liberation Serif", "labelFontSize": 15.3, "labelColor": "black", "labelOffset": 8, "rowPadding": 1.6, "labelLimit": 400,
       "labelExpr": "{'UB':'Upper bound','NB':'Narrowband scheme in [7]','S25':'Scheme in [25] (more RF chains and TTDs)','SA':'Subarray scheme in [38]','TTD':'TTD scheme in [27]','PR':'Proposed scheme'}[datum.label]"}}
  }
 }
]
}
